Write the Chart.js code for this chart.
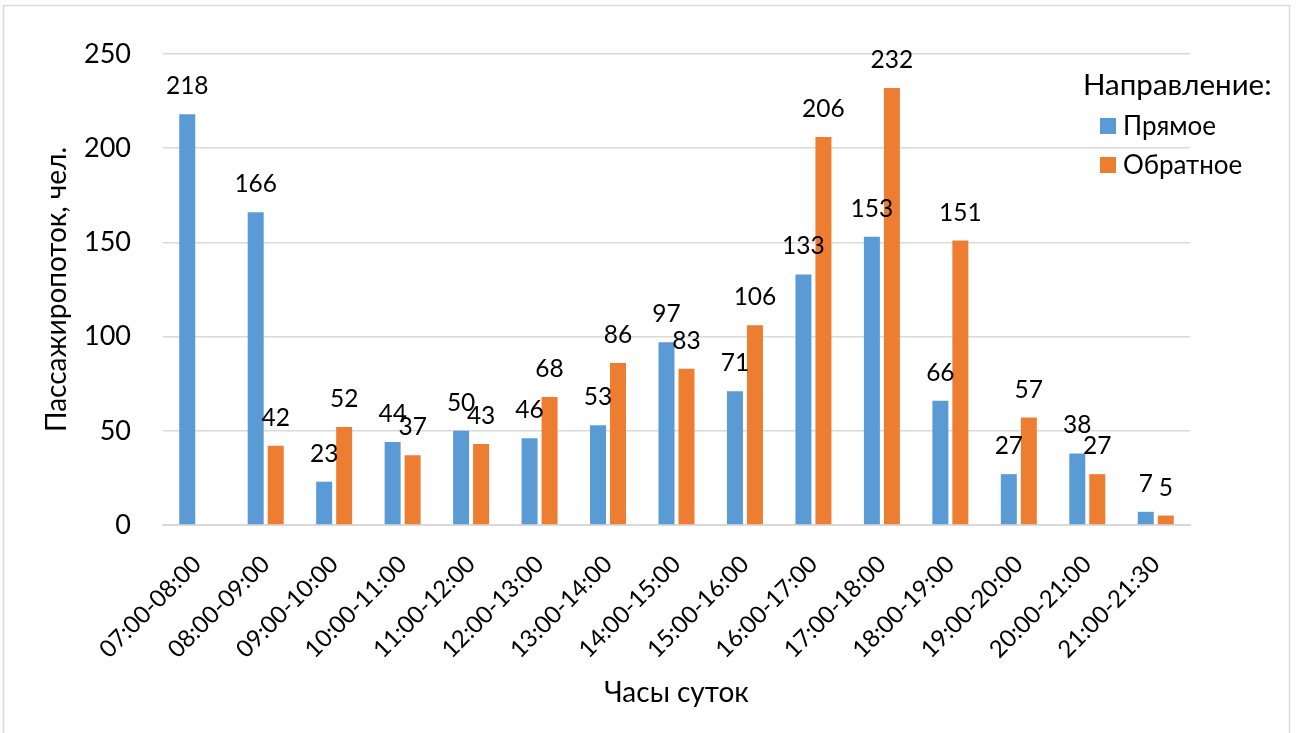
<!DOCTYPE html>
<html lang="ru">
<head>
<meta charset="utf-8">
<title>Пассажиропоток по часам суток</title>
<script src="https://cdn.jsdelivr.net/npm/chart.js@4/dist/chart.umd.min.js"></script>
<style>
  html, body { margin: 0; padding: 0; background: #fff; }
  #wrap { position: relative; width: 1297px; height: 733px; }
</style>
</head>
<body>
<div id="wrap"><canvas id="chart" width="1297" height="733"></canvas></div>
<script>
// Hourly intervals of the day
const hours = [
  '07:00-08:00', '08:00-09:00', '09:00-10:00', '10:00-11:00', '11:00-12:00',
  '12:00-13:00', '13:00-14:00', '14:00-15:00', '15:00-16:00', '16:00-17:00',
  '17:00-18:00', '18:00-19:00', '19:00-20:00', '20:00-21:00', '21:00-21:30'
];
// Passengers, forward direction
const forward = [218, 166, 23, 44, 50, 46, 53, 97, 71, 133, 153, 66, 27, 38, 7];
// Passengers, return direction (no trips in the first hour)
const backward = [null, 42, 52, 37, 43, 68, 86, 83, 106, 206, 232, 151, 57, 27, 5];
const seriesNames = ['Прямое', 'Обратное'];
const legendTitle = 'Направление:';
const yTicks = [0, 50, 100, 150, 200, 250];

const FONT = 'Lato, "Open Sans", sans-serif';
const BLUE = '#5B9BD5';
const ORANGE = '#ED7D31';
const GRID = '#D9D9D9';

// Frame around the whole chart and a white background
const framePlugin = {
  id: 'frame',
  beforeDraw(chart) {
    const ctx = chart.ctx;
    ctx.save();
    ctx.fillStyle = '#fff';
    ctx.fillRect(0, 0, chart.width, chart.height);
    ctx.strokeStyle = GRID;
    ctx.lineWidth = 1.5;
    ctx.strokeRect(3.5, 5.5, 1286, 740);
    ctx.restore();
  }
};

// Value labels above each bar
const valueLabels = {
  id: 'valueLabels',
  afterDatasetsDraw(chart) {
    const ctx = chart.ctx;
    ctx.save();
    ctx.font = '24.5px ' + FONT;
    ctx.fillStyle = '#000';
    ctx.textAlign = 'center';
    ctx.textBaseline = 'alphabetic';
    chart.data.datasets.forEach((ds, di) => {
      const meta = chart.getDatasetMeta(di);
      meta.data.forEach((bar, i) => {
        const v = ds.data[i];
        if (v === null || v === undefined) return;
        ctx.fillText(String(v), bar.x, bar.y - 20);
      });
    });
    ctx.restore();
  }
};

// Legend with a heading, laid over the top-right corner of the plot
const sideLegend = {
  id: 'sideLegend',
  afterDraw(chart) {
    const ctx = chart.ctx;
    ctx.save();
    ctx.fillStyle = '#000';
    ctx.textBaseline = 'middle';
    ctx.textAlign = 'left';
    ctx.font = '29.5px ' + FONT;
    ctx.fillText(legendTitle, 1083, 85);
    ctx.font = '26px ' + FONT;
    chart.data.datasets.forEach((ds, i) => {
      const cy = 126 + i * 39;
      ctx.fillStyle = ds.backgroundColor;
      ctx.fillRect(1100, cy - 8, 16, 16);
      ctx.fillStyle = '#000';
      ctx.fillText(ds.label, 1123, cy + 1);
    });
    ctx.restore();
  }
};

new Chart(document.getElementById('chart'), {
  type: 'bar',
  data: {
    labels: hours,
    datasets: [
      { label: seriesNames[0], data: forward, backgroundColor: BLUE },
      { label: seriesNames[1], data: backward, backgroundColor: ORANGE }
    ]
  },
  options: {
    responsive: false,
    animation: false,
    devicePixelRatio: 1,
    layout: { padding: { top: 54, right: 107, left: 0, bottom: 0 } },
    datasets: {
      bar: { categoryPercentage: 0.584, barPercentage: 0.8 }
    },
    plugins: {
      legend: { display: false },
      tooltip: { enabled: false }
    },
    scales: {
      x: {
        grid: { display: false, drawTicks: false },
        border: { color: GRID, width: 2 },
        ticks: {
          color: '#000',
          font: { family: FONT, size: 24 },
          minRotation: 45,
          maxRotation: 45,
          padding: 25
        },
        title: {
          display: true,
          text: 'Часы суток',
          color: '#000',
          font: { family: FONT, size: 28 },
          padding: { top: 0, bottom: 23 }
        },
        afterFit(scale) { scale.height = 208; }
      },
      y: {
        min: 0,
        max: 250,
        afterBuildTicks(scale) { scale.ticks = yTicks.map(v => ({ value: v })); },
        grid: { color: GRID, lineWidth: 1.5, drawTicks: false },
        border: { display: false },
        ticks: {
          color: '#000',
          font: { family: FONT, size: 27 },
          padding: 32
        },
        title: {
          display: true,
          text: 'Пассажиропоток, чел.',
          color: '#000',
          font: { family: FONT, size: 28 },
          padding: { top: 40, bottom: 0 }
        },
        afterFit(scale) { scale.width = 163; }
      }
    }
  },
  plugins: [framePlugin, valueLabels, sideLegend]
});
</script>
</body>
</html>
